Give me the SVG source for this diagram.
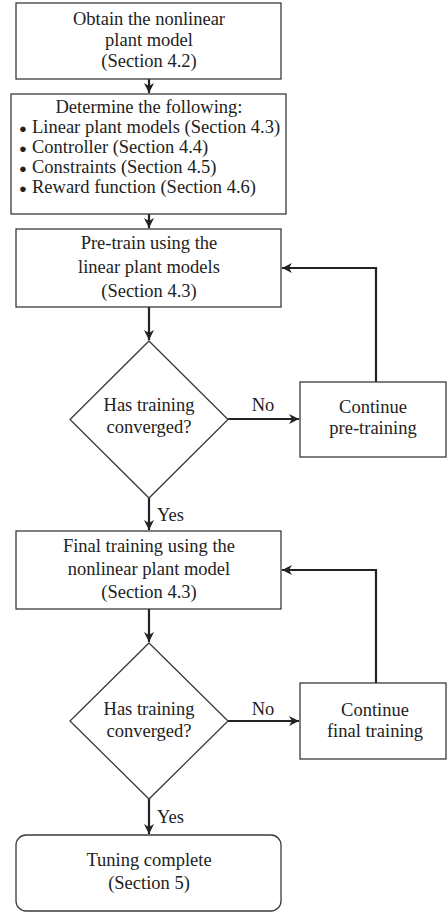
<svg xmlns="http://www.w3.org/2000/svg" width="447" height="914" viewBox="0 0 447 914">
<defs>
<style>
.box{fill:#fff;stroke:#3a3a3a;stroke-width:1.3}
.t{font-family:'Liberation Serif','DejaVu Serif','Times New Roman',serif;font-size:18.5px;fill:#222;text-anchor:middle}
.tl{text-anchor:start}
.c{fill:none;stroke:#222;stroke-width:2.2}
</style>
<marker id="ah" viewBox="0 0 10 10" refX="10" refY="5" markerWidth="10" markerHeight="10" markerUnits="userSpaceOnUse" orient="auto">
<path d="M0,0 L10,5 L0,10 L3,5 Z" fill="#222"/>
</marker>
</defs>
<rect width="447" height="914" fill="#fff"/>
<g id="connectors">
<line class="c" x1="149" y1="79" x2="149" y2="93" marker-end="url(#ah)"/>
<line class="c" x1="149" y1="214" x2="149" y2="228" marker-end="url(#ah)"/>
<line class="c" x1="149" y1="307" x2="149" y2="340" marker-end="url(#ah)"/>
<line class="c" x1="228" y1="419" x2="299" y2="419" marker-end="url(#ah)"/>
<polyline class="c" points="376,382 376,268 282,268" marker-end="url(#ah)"/>
<line class="c" x1="149" y1="498" x2="149" y2="530" marker-end="url(#ah)"/>
<line class="c" x1="149" y1="609" x2="149" y2="642" marker-end="url(#ah)"/>
<line class="c" x1="228" y1="721" x2="299" y2="721" marker-end="url(#ah)"/>
<polyline class="c" points="376,683 376,570 282,570" marker-end="url(#ah)"/>
<line class="c" x1="149" y1="799" x2="149" y2="834" marker-end="url(#ah)"/>
<text class="t" x="263" y="411">No</text>
<text class="t tl" x="157" y="521">Yes</text>
<text class="t" x="263" y="715">No</text>
<text class="t tl" x="157" y="823">Yes</text>
</g>
<g id="obtain">
<rect class="box" x="16" y="3" width="265" height="76"/>
<text class="t" x="149" y="25">Obtain the nonlinear</text>
<text class="t" x="149" y="46">plant model</text>
<text class="t" x="149" y="67">(Section 4.2)</text>
</g>
<g id="determine">
<rect class="box" x="11" y="94" width="275" height="120"/>
<text class="t" x="149" y="113">Determine the following:</text>
<text class="t tl" x="19" y="133"><tspan font-size="13">●</tspan><tspan x="32">Linear plant models (Section 4.3)</tspan></text>
<text class="t tl" x="19" y="153"><tspan font-size="13">●</tspan><tspan x="32">Controller (Section 4.4)</tspan></text>
<text class="t tl" x="19" y="173"><tspan font-size="13">●</tspan><tspan x="32">Constraints (Section 4.5)</tspan></text>
<text class="t tl" x="19" y="193"><tspan font-size="13">●</tspan><tspan x="32">Reward function (Section 4.6)</tspan></text>
</g>
<g id="pretrain">
<rect class="box" x="16" y="229" width="265" height="78"/>
<text class="t" x="149" y="249">Pre-train using the</text>
<text class="t" x="149" y="273">linear plant models</text>
<text class="t" x="149" y="297">(Section 4.3)</text>
</g>
<g id="decision1">
<polygon class="box" points="149,341 228,419.5 149,498 70,419.5"/>
<text class="t" x="149" y="411">Has training</text>
<text class="t" x="149" y="433">converged?</text>
</g>
<g id="continue-pre">
<rect class="box" x="300" y="382" width="146" height="75"/>
<text class="t" x="373" y="413">Continue</text>
<text class="t" x="373" y="434">pre-training</text>
</g>
<g id="final">
<rect class="box" x="16" y="531" width="265" height="78"/>
<text class="t" x="149" y="552">Final training using the</text>
<text class="t" x="149" y="575">nonlinear plant model</text>
<text class="t" x="149" y="598">(Section 4.3)</text>
</g>
<g id="decision2">
<polygon class="box" points="149,643 228,721 149,799 70,721"/>
<text class="t" x="149" y="715">Has training</text>
<text class="t" x="149" y="737">converged?</text>
</g>
<g id="continue-final">
<rect class="box" x="300" y="683" width="146" height="76"/>
<text class="t" x="375" y="716">Continue</text>
<text class="t" x="375" y="737">final training</text>
</g>
<g id="complete">
<rect class="box" x="16" y="835" width="265" height="76" rx="10"/>
<text class="t" x="149" y="866">Tuning complete</text>
<text class="t" x="149" y="889">(Section 5)</text>
</g>
</svg>
